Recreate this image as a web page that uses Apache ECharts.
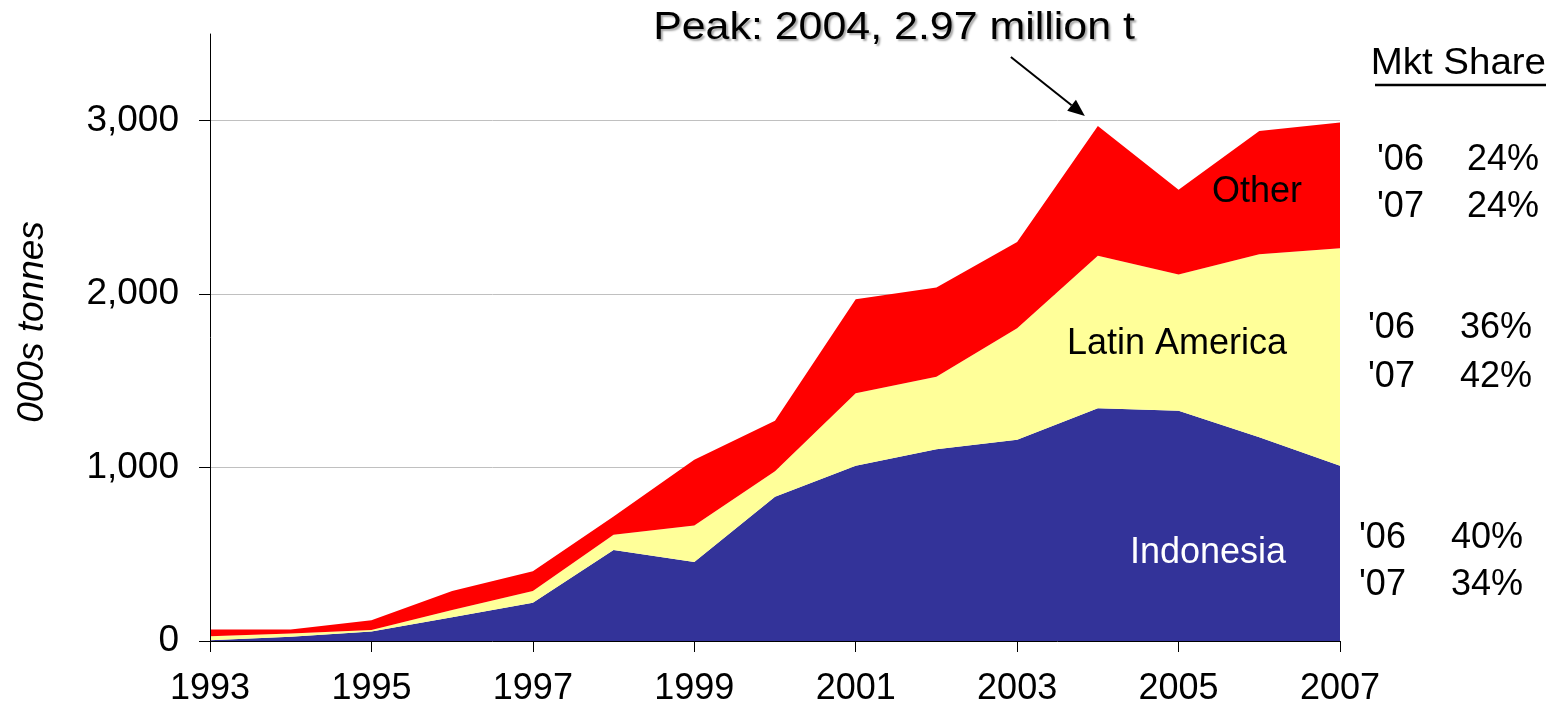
<!DOCTYPE html>
<html>
<head>
<meta charset="utf-8">
<title>Production by region, 1993–2007</title>
<script src="https://cdn.jsdelivr.net/npm/echarts@6/dist/echarts.min.js"></script>
<style>
  html, body { margin: 0; padding: 0; background: #fff; }
  #chart { width: 1551px; height: 713px; }
</style>
</head>
<body>
<div id="chart"></div>
<script>
// Years on the category axis
const years = ['1993','1994','1995','1996','1997','1998','1999','2000',
               '2001','2002','2003','2004','2005','2006','2007'];

// Output by region, thousand tonnes (stacked bottom to top)
const indonesia    = [5, 25, 55, 137, 220, 524, 456, 832, 1010, 1105, 1160, 1342, 1328, 1175, 1010];
const latinAmerica = [22, 18, 9, 42, 69, 88, 210, 147, 419, 419, 644, 879, 785, 1055, 1255];
const other        = [39, 23, 56, 110, 113, 106, 379, 291, 542, 515, 497, 749, 489, 710, 725];

// Y axis tick values
const yTicks = [0, 1000, 2000, 3000];

// Market share labels, per region (top to bottom: Other, Latin America, Indonesia)
const shareRegions = ['Other', 'Latin America', 'Indonesia'];
const share06 = [24, 36, 40];
const share07 = [24, 42, 34];

// Peak annotation
const peakYear = '2004';
const peakValue = 2970;

const FONT = '"Liberation Sans", Arial, sans-serif';
const COLORS = { Indonesia: '#333399', 'Latin America': '#FFFF99', Other: '#FF0000' };

const chart = echarts.init(document.getElementById('chart'), null, { renderer: 'canvas' });

function areaSeries(name, data) {
  return {
    name: name,
    type: 'line',
    stack: 'total',
    yAxisIndex: 0,
    data: data,
    symbol: 'none',
    showSymbol: false,
    lineStyle: { width: 0 },
    areaStyle: { color: COLORS[name], opacity: 1 },
    itemStyle: { color: COLORS[name] },
    emphasis: { disabled: true },
    silent: true,
    z: 2,
    animation: false
  };
}

// Share block rows: [left x of year text, right x of percent, y centre]
const shareRows = [
  { left: 1377, right: 1539, y: [160, 207] },
  { left: 1368, right: 1532, y: [328, 377] },
  { left: 1359, right: 1523, y: [538, 585] }
];

const textStyle = (extra) => Object.assign({ fontFamily: FONT, fontSize: 36, fill: '#000' }, extra);

const graphics = [];
shareRows.forEach((row, i) => {
  [['\'06', share06[i]], ['\'07', share07[i]]].forEach((pair, j) => {
    graphics.push({
      type: 'text', x: row.left, y: row.y[j], silent: true,
      style: textStyle({ text: pair[0], align: 'left', verticalAlign: 'middle' })
    });
    graphics.push({
      type: 'text', x: row.right, y: row.y[j], silent: true,
      style: textStyle({ text: pair[1] + '%', align: 'right', verticalAlign: 'middle' })
    });
  });
});

// "Mkt Share" heading with underline
graphics.push({
  type: 'text', x: 1546, y: 64, scaleX: 1.04, silent: true,
  style: textStyle({ text: 'Mkt Share', align: 'right', verticalAlign: 'middle', fontSize: 37 })
});
graphics.push({
  type: 'line', silent: true,
  shape: { x1: 1375, y1: 85, x2: 1546, y2: 85 },
  style: { stroke: '#000', lineWidth: 2.5 }
});

// Y axis title
graphics.push({
  type: 'text', x: 33, y: 322, rotation: Math.PI / 2, silent: true,
  style: textStyle({ text: '000s tonnes', align: 'center', verticalAlign: 'middle', fontSize: 37, fontStyle: 'italic' })
});

// Region names inside the areas
graphics.push({
  type: 'text', x: 1257, y: 192, z: 20, silent: true,
  style: textStyle({ text: 'Other', align: 'center', verticalAlign: 'middle' })
});
graphics.push({
  type: 'text', x: 1177, y: 344, z: 20, silent: true,
  style: textStyle({ text: 'Latin America', align: 'center', verticalAlign: 'middle' })
});
graphics.push({
  type: 'text', x: 1208, y: 553, z: 20, silent: true,
  style: textStyle({ text: 'Indonesia', align: 'center', verticalAlign: 'middle', fill: '#fff' })
});

// Peak caption
graphics.push({
  type: 'text', x: 894, y: 28, scaleX: 1.1, silent: true,
  style: textStyle({
    text: 'Peak: ' + peakYear + ', ' + (peakValue / 1000).toFixed(2) + ' million t',
    fontSize: 39, align: 'center', verticalAlign: 'middle',
    textShadowColor: 'rgba(0,0,0,0.35)', textShadowOffsetX: 2, textShadowOffsetY: 2, textShadowBlur: 2
  })
});

const yBase = {
  type: 'value',
  min: 0,
  max: 3500,
  interval: 1000
};

const option = {
  backgroundColor: '#fff',
  animation: false,
  grid: { left: 210, right: 211, top: 34, bottom: 72, containLabel: false },
  xAxis: {
    type: 'category',
    data: years,
    boundaryGap: false,
    axisLine: { show: true, lineStyle: { color: '#000', width: 1 } },
    axisTick: { show: true, interval: 1, length: 11, lineStyle: { color: '#000', width: 1 } },
    axisLabel: { interval: 1, margin: 30, color: '#000', fontFamily: FONT, fontSize: 36 },
    splitLine: { show: false },
    z: 10
  },
  yAxis: [
    // Gridlines only, drawn beneath the areas
    Object.assign({}, yBase, {
      axisLine: { show: false },
      axisTick: { show: false },
      axisLabel: { show: false },
      splitLine: { show: true, showMinLine: false, showMaxLine: false, lineStyle: { color: '#c0c0c0', width: 1 } },
      z: 0
    }),
    // Axis line, ticks and labels, drawn above the areas
    Object.assign({}, yBase, {
      position: 'left',
      axisLine: { show: true, onZero: false, lineStyle: { color: '#000', width: 1 } },
      axisTick: { show: true, length: 11, customValues: yTicks, lineStyle: { color: '#000', width: 1 } },
      axisLabel: {
        customValues: yTicks, margin: 31, color: '#000', fontFamily: FONT, fontSize: 37,
        formatter: (v) => v.toLocaleString('en-US')
      },
      splitLine: { show: false },
      z: 10
    })
  ],
  series: [
    areaSeries('Indonesia', indonesia),
    areaSeries('Latin America', latinAmerica),
    areaSeries('Other', other)
  ],
  graphic: graphics
};

chart.setOption(option);

// Arrow pointing at the peak, placed relative to the peak's pixel position
const peakPx = chart.convertToPixel({ gridIndex: 0 }, [peakYear, peakValue]);
const tip = [peakPx[0] - 13, peakPx[1] - 10];
const tail = [peakPx[0] - 87, peakPx[1] - 69];
const dx = tip[0] - tail[0], dy = tip[1] - tail[1];
const len = Math.sqrt(dx * dx + dy * dy);
const ux = dx / len, uy = dy / len;
const headLen = 17, headHalf = 7;
const base = [tip[0] - ux * headLen, tip[1] - uy * headLen];
chart.setOption({
  graphic: graphics.concat([
    {
      type: 'line', silent: true,
      shape: { x1: tail[0], y1: tail[1], x2: base[0], y2: base[1] },
      style: { stroke: '#000', lineWidth: 2 }
    },
    {
      type: 'polygon', silent: true,
      shape: { points: [
        tip,
        [base[0] - uy * headHalf, base[1] + ux * headHalf],
        [base[0] + uy * headHalf, base[1] - ux * headHalf]
      ] },
      style: { fill: '#000' }
    }
  ])
});
</script>
</body>
</html>
